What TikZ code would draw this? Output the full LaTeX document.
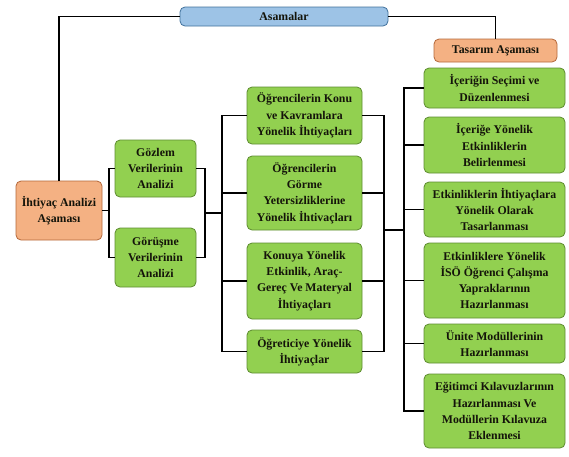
\documentclass[tikz,border=0pt]{standalone}
\usepackage{fontspec}
\setmainfont{Liberation Serif}
\usetikzlibrary{positioning}

\definecolor{boxgreen}{HTML}{92D050}
\definecolor{greenedge}{HTML}{5E8C31}
\definecolor{boxorange}{HTML}{F4B183}
\definecolor{orangeedge}{HTML}{B5683A}
\definecolor{boxblue}{HTML}{9DC3E6}
\definecolor{blueedge}{HTML}{41719C}
\definecolor{labeltext}{HTML}{14140A}

\begin{document}
\begin{tikzpicture}[
            x = 1pt, y = -1pt, % pixel-like units, top down
            line width = 1.1pt, % connector style
            font = \fontsize{11.8}{16.2}\selectfont\bfseries
        ]

        \tikzstyle{every box}=[
            rounded corners = 5pt,
            line width = 0.8pt,
            align = center,
            inner sep = 1pt,
            text = labeltext
        ]
        \tikzstyle{stagebox}=[every box, fill = boxgreen, draw = greenedge]
        \tikzstyle{phasebox}=[every box, fill = boxorange, draw = orangeedge]
        \tikzstyle{topbox}=[every box, fill = boxblue, draw = blueedge]

        \useasboundingbox (0,0) rectangle (569,456);

        \node[topbox, minimum width = 208pt, minimum height = 19pt] (asamalar) at (284,16.5) {Asamalar};
        \node[phasebox, minimum width = 123pt, minimum height = 23pt] (tasarim) at (495.5,50.5) {Tasarım Aşaması};
        \node[phasebox, minimum width = 86pt, minimum height = 59pt] (ihtiyac) at (59,210.5) {İhtiyaç Analizi\\Aşaması};

        \node[stagebox, minimum width = 81pt, minimum height = 57pt] (gozlem) at (155.5,168.5) {Gözlem\\Verilerinin\\Analizi};
        \node[stagebox, minimum width = 81pt, minimum height = 59pt] (gorusme) at (155.5,257.5) {Görüşme\\Verilerinin\\Analizi};

        \node[stagebox, minimum width = 115pt, minimum height = 57pt] (konu) at (304.5,115.5) {Öğrencilerin Konu\\ve Kavramlara\\Yönelik İhtiyaçları};
        \node[stagebox, minimum width = 115pt, minimum height = 74pt] (gorme) at (304.5,193) {Öğrencilerin\\Görme\\Yetersizliklerine\\Yönelik İhtivaçları};
        \node[stagebox, minimum width = 115pt, minimum height = 76pt] (konuya) at (304.5,281) {Konuya Yönelik\\Etkinlik, Araç-\\Gereç Ve Materyal\\İhtiyaçları};
        \node[stagebox, minimum width = 115pt, minimum height = 43pt] (ogretici) at (304.5,351.5) {Öğreticiye Yönelik\\İhtiyaçlar};

        \node[stagebox, minimum width = 141pt, minimum height = 40pt] (icerigin) at (494.5,88) {İçeriğin Seçimi ve\\Düzenlenmesi};
        \node[stagebox, minimum width = 141pt, minimum height = 56pt] (icerige) at (494.5,145) {İçeriğe Yönelik\\Etkinliklerin\\Belirlenmesi};
        \node[stagebox, minimum width = 141pt, minimum height = 55pt] (etkinlik) at (494.5,209.5) {Etkinliklerin İhtiyaçlara\\Yönelik Olarak\\Tasarlanması};
        \node[stagebox, minimum width = 141pt, minimum height = 75pt] (iso) at (494.5,280.5) {Etkinliklere Yönelik\\İSÖ Öğrenci Çalışma\\Yapraklarının\\Hazırlanması};
        \node[stagebox, minimum width = 141pt, minimum height = 39pt] (unite) at (494.5,343.5) {Ünite Modüllerinin\\Hazırlanması};
        \node[stagebox, minimum width = 141pt, minimum height = 74pt] (egitimci) at (494.5,411) {Eğitimci Kılavuzlarının\\Hazırlanması Ve\\Modüllerin Kılavuza\\Eklenmesi};

        % junctions of the brackets
        \coordinate (jA) at (109,210.5);
        \coordinate (jB) at (205,213);
        \coordinate (jC) at (222,213);
        \coordinate (jD) at (384,230);
        \coordinate (jE) at (404,230);

	\draw (asamalar.west) -| (ihtiyac.north);
	\draw (asamalar.east) -| (tasarim.north);

	\draw (ihtiyac.east) -- (jA);
	\draw (gozlem.west) -| (jA) |- (gorusme.west);
	\draw (gozlem.east) -| (jB) |- (gorusme.east);
	\draw (jB) -- (jC);

	\draw (konu.west) -| (jC) |- (ogretici.west);
	\draw (gorme.west) -| (jC);
	\draw (konuya.west) -| (jC);

	\draw (konu.east) -| (jD) |- (ogretici.east);
	\draw (gorme.east) -| (jD);
	\draw (konuya.east) -| (jD);
	\draw (jD) -- (jE);

	\draw (icerigin.west) -| (jE) |- (egitimci.west);
	\draw (icerige.west) -| (jE);
	\draw (etkinlik.west) -| (jE);
	\draw (iso.west) -| (jE);
	\draw (unite.west) -| (jE);
    \end{tikzpicture}
\end{document}
